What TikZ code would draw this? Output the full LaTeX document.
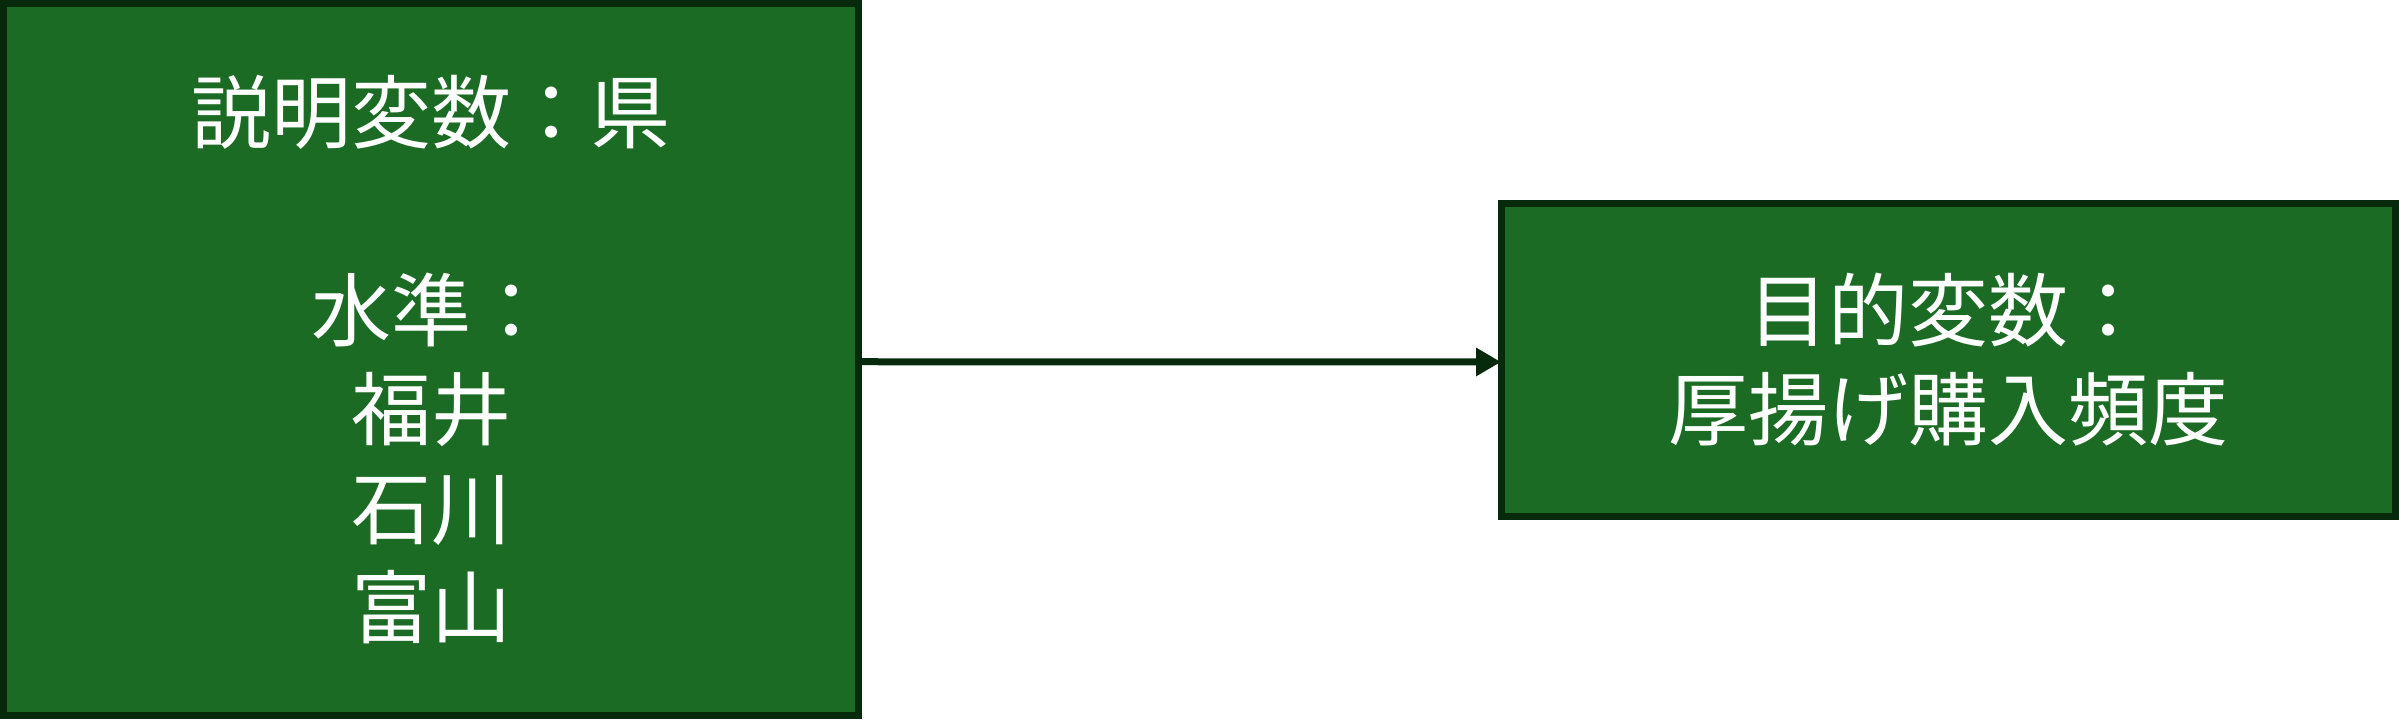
\documentclass[tikz,border=0pt]{standalone}
\usepackage{fontspec}
\newfontfamily\cjk{Noto Sans CJK JP}
\usetikzlibrary{arrows.meta}
\definecolor{boxfill}{HTML}{1B6B24}
\definecolor{boxline}{HTML}{062A0B}
\tikzset{
  greenbox/.style={draw=boxline, fill=boxfill, line width=2.1pt, inner sep=0pt,
    text=white, align=center, font=\cjk\fontsize{24}{29.7}\selectfont},
  link/.style={draw=boxline, line width=2.1pt, -{Triangle[length=7.5pt,width=8.1pt]}}
}
\begin{document}
\begin{tikzpicture}[x=0.3pt,y=-0.3pt]
\useasboundingbox (0,0) rectangle (2399,722);
\node[greenbox, minimum width=256.5pt, minimum height=213.75pt] (expl) at (431,359.75)
  {説明変数：県\\[29.7pt]水準：\\福井\\石川\\富山};
\node[greenbox, minimum width=268.2pt, minimum height=93.9pt] (resp) at (1948.5,360)
  {目的変数：\\厚揚げ購入頻度};
\draw[link, shorten >=-0.9pt] ([yshift=-0.6pt]expl.east) -- ([yshift=-0.6pt]resp.west);
\end{tikzpicture}
\end{document}
